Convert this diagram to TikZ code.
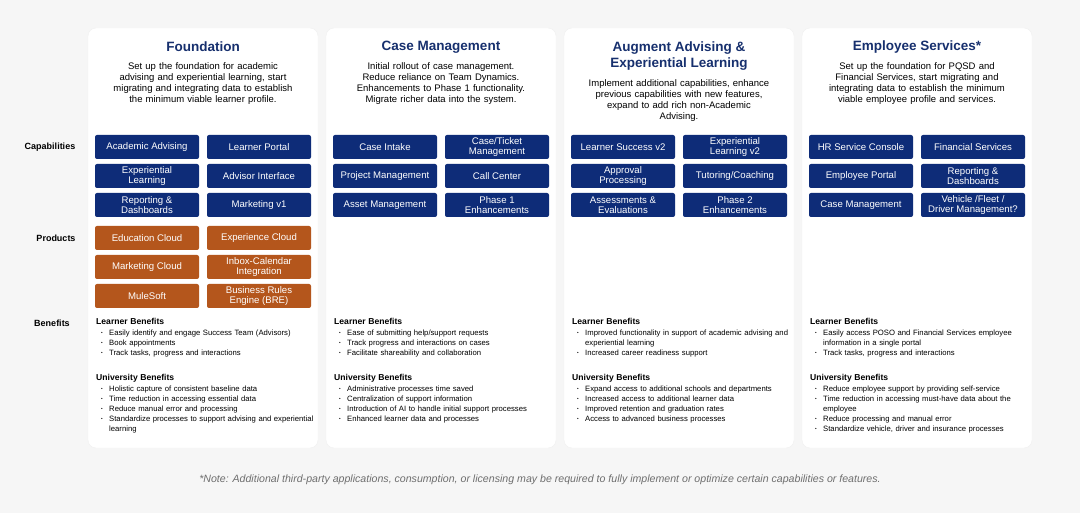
\documentclass[tikz,border=0pt]{standalone}
\usepackage{fontspec}
\setmainfont{Liberation Sans}
\hyphenpenalty=10000 \exhyphenpenalty=10000
\definecolor{navy}{HTML}{0E2C78}
\definecolor{ttl}{HTML}{17306E}
\definecolor{org}{HTML}{B4561C}
\definecolor{bg}{HTML}{F6F6F6}
\definecolor{note}{HTML}{6E6E6E}
\newcommand{\bi}[1]{\hangindent=13pt\hangafter=1\hspace*{5pt}\makebox[8pt][l]{\raisebox{1pt}{\scalebox{0.6}{\textbullet}}}#1\par}
\newcommand{\bh}[1]{{\bfseries\fontsize{8.6}{11}\selectfont #1}\par\vspace{1.5pt}}
\tikzset{
 card/.style={draw=black!6,fill=white,rounded corners=8pt},
 capbox/.style={fill=navy,text=white,rounded corners=2pt,minimum width=104pt,minimum height=24pt,inner sep=1pt,align=center,font=\fontsize{9.6}{9.6}\selectfont},
 prodbox/.style={capbox,fill=org},
 ttlf/.style={text=ttl,font=\bfseries\fontsize{13.5}{16}\selectfont,align=center},
 desc/.style={font=\fontsize{9.5}{11}\selectfont,align=center,text width=222pt},
 rowl/.style={font=\bfseries\fontsize{9}{10}\selectfont},
 ben/.style={anchor=north west,text width=218pt,inner sep=0pt,font=\fontsize{7.7}{10}\selectfont,align=left},
}
\begin{document}
\begin{tikzpicture}[x=1pt,y=-1pt]
\path[fill=bg] (0,0) rectangle (1080,513);
\useasboundingbox (0,0) rectangle (1080,513);
\foreach \i/\x in {1/88,2/326,3/564,4/802}{
 \path[card] (\x,28) rectangle (\x+230,448);
}
\node[rowl] (lc) at (50,147) {Capabilities};
\node[rowl] (lp) at (56,238) {Products};
\node[rowl] (lb) at (52,323) {Benefits};
% titles
\node[ttlf] (t1) at (203,47) {Foundation};
\node[ttlf] (t2) at (441,47) {Case Management};
\node[ttlf] (t3) at (679,56) {Augment Advising \&\\Experiential Learning};
\node[ttlf] (t4) at (917,47) {Employee Services*};
\node[desc,anchor=north] (d1) at (203,59) {Set up the foundation for academic\\advising and experiential learning, start\\migrating and integrating data to establish\\the minimum viable learner profile.};
\node[desc,anchor=north] (d2) at (441,59) {Initial rollout of case management.\\Reduce reliance on Team Dynamics.\\Enhancements to Phase 1 functionality.\\Migrate richer data into the system.};
\node[desc,anchor=north] (d3) at (679,76) {Implement additional capabilities, enhance\\previous capabilities with new features,\\expand to add rich non-Academic\\Advising.};
\node[desc,anchor=north] (d4) at (917,59) {Set up the foundation for PQSD and\\Financial Services, start migrating and\\integrating data to establish the minimum\\viable employee profile and services.};
% capabilities
\node[capbox] (a1) at (147,147) {Academic Advising};
\node[capbox] (a2) at (259,147) {Learner Portal};
\node[capbox] (a3) at (147,176) {Experiential\\Learning};
\node[capbox] (a4) at (259,176) {Advisor Interface};
\node[capbox] (a5) at (147,205) {Reporting \&\\Dashboards};
\node[capbox] (a6) at (259,205) {Marketing v1};
\node[prodbox] (p1) at (147,238) {Education Cloud};
\node[prodbox] (p2) at (259,238) {Experience Cloud};
\node[prodbox] (p3) at (147,267) {Marketing Cloud};
\node[prodbox] (p4) at (259,267) {Inbox-Calendar\\Integration};
\node[prodbox] (p5) at (147,296) {MuleSoft};
\node[prodbox] (p6) at (259,296) {Business Rules\\Engine (BRE)};
\node[capbox] (b1) at (385,147) {Case Intake};
\node[capbox] (b2) at (497,147) {Case/Ticket\\Management};
\node[capbox] (b3) at (385,176) {Project Management};
\node[capbox] (b4) at (497,176) {Call Center};
\node[capbox] (b5) at (385,205) {Asset Management};
\node[capbox] (b6) at (497,205) {Phase 1\\Enhancements};
\node[capbox] (c1) at (623,147) {Learner Success v2};
\node[capbox] (c2) at (735,147) {Experiential\\Learning v2};
\node[capbox] (c3) at (623,176) {Approval\\Processing};
\node[capbox] (c4) at (735,176) {Tutoring/Coaching};
\node[capbox] (c5) at (623,205) {Assessments \&\\Evaluations};
\node[capbox] (c6) at (735,205) {Phase 2\\Enhancements};
\node[capbox] (e1) at (861,147) {HR Service Console};
\node[capbox] (e2) at (973,147) {Financial Services};
\node[capbox] (e3) at (861,176) {Employee Portal};
\node[capbox] (e4) at (973,176) {Reporting \&\\Dashboards};
\node[capbox] (e5) at (861,205) {Case Management};
\node[capbox] (e6) at (973,205) {Vehicle /Fleet /\\Driver Management?};
% benefits
\node[ben] (bl1) at (96,318) {\bh{Learner Benefits}
\bi{Easily identify and engage Success Team (Advisors)}
\bi{Book appointments}
\bi{Track tasks, progress and interactions}};
\node[ben] (bu1) at (96,374) {\bh{University Benefits}
\bi{Holistic capture of consistent baseline data}
\bi{Time reduction in accessing essential data}
\bi{Reduce manual error and processing}
\bi{Standardize processes to support advising and experiential learning}};
\node[ben] (bl2) at (334,318) {\bh{Learner Benefits}
\bi{Ease of submitting help/support requests}
\bi{Track progress and interactions on cases}
\bi{Facilitate shareability and collaboration}};
\node[ben] (bu2) at (334,374) {\bh{University Benefits}
\bi{Administrative processes time saved}
\bi{Centralization of support information}
\bi{Introduction of AI to handle initial support processes}
\bi{Enhanced learner data and processes}};
\node[ben] (bl3) at (572,318) {\bh{Learner Benefits}
\bi{Improved functionality in support of academic advising and experiential learning}
\bi{Increased career readiness support}};
\node[ben] (bu3) at (572,374) {\bh{University Benefits}
\bi{Expand access to additional schools and departments}
\bi{Increased access to additional learner data}
\bi{Improved retention and graduation rates}
\bi{Access to advanced business processes}};
\node[ben] (bl4) at (810,318) {\bh{Learner Benefits}
\bi{Easily access POSO and Financial Services employee information in a single portal}
\bi{Track tasks, progress and interactions}};
\node[ben] (bu4) at (810,374) {\bh{University Benefits}
\bi{Reduce employee support by providing self-service}
\bi{Time reduction in accessing must-have data about the employee}
\bi{Reduce processing and manual error}
\bi{Standardize vehicle, driver and insurance processes}};
\node[text=note,font=\itshape\fontsize{10.6}{12}\selectfont] (nt) at (540,480) {*Note: Additional third-party applications, consumption, or licensing may be required to fully implement or optimize certain capabilities or features.};
\end{tikzpicture}
\end{document}
